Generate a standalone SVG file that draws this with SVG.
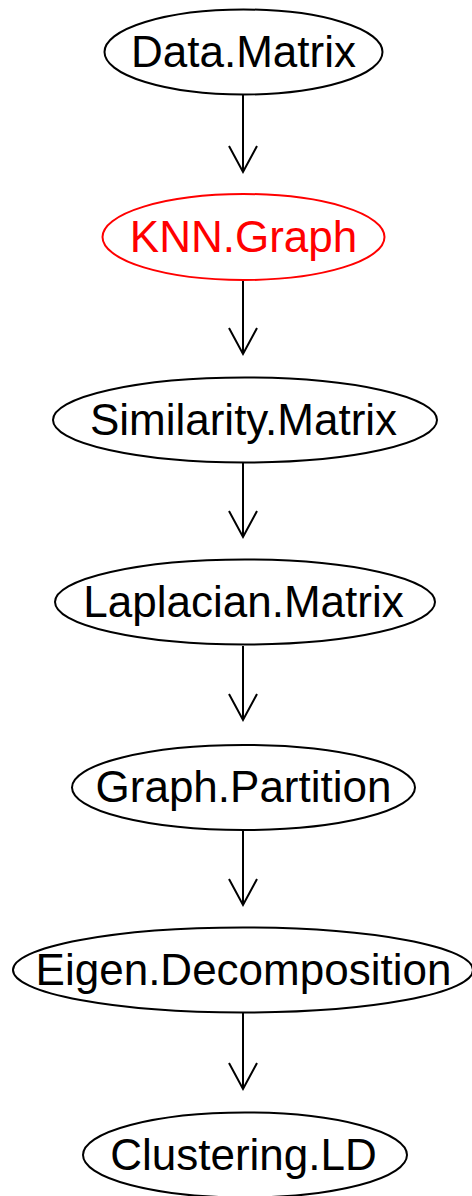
<svg xmlns="http://www.w3.org/2000/svg" width="472" height="1196" viewBox="0 0 472 1196">
<style>
.n ellipse{fill:none;stroke:#000;stroke-width:2}
.n text{font-family:"Liberation Sans",Arial,sans-serif;font-size:44px;text-anchor:middle;fill:#000}
.r ellipse{stroke:#ff0000}
.r text{fill:#ff0000}
.e path{fill:none;stroke:#000;stroke-width:2}
</style>
<rect width="472" height="1196" fill="#fff"/>
<g class="e" id="connectors">
<path d="M243,95V172M229,146L243,172L257,146"/>
<path d="M243,280V354M229,328L243,354L257,328"/>
<path d="M243,463V537M229,511L243,537L257,511"/>
<path d="M243,646V720M229,694L243,720L257,694"/>
<path d="M243,830V905M229,879L243,905L257,879"/>
<path d="M243,1013V1089M229,1063L243,1089L257,1063"/>
</g>
<g class="n" id="Data.Matrix"><ellipse cx="243.5" cy="52" rx="139" ry="42.5"/><text x="243.5" y="67">Data.Matrix</text></g>
<g class="n r" id="KNN.Graph"><ellipse cx="243.5" cy="237" rx="141" ry="43"/><text x="243.5" y="252">KNN.Graph</text></g>
<g class="n" id="Similarity.Matrix"><ellipse cx="245" cy="420" rx="192" ry="42.5"/><text x="243.5" y="435">Similarity.Matrix</text></g>
<g class="n" id="Laplacian.Matrix"><ellipse cx="245" cy="602" rx="190" ry="42.5"/><text x="243.5" y="617">Laplacian.Matrix</text></g>
<g class="n" id="Graph.Partition"><ellipse cx="243.5" cy="787.5" rx="171.5" ry="42.5"/><text x="243.5" y="802">Graph.Partition</text></g>
<g class="n" id="Eigen.Decomposition"><ellipse cx="243" cy="970" rx="230" ry="42.5"/><text x="243.5" y="985">Eigen.Decomposition</text></g>
<g class="n" id="Clustering.LD"><ellipse cx="245" cy="1155" rx="162" ry="42.5"/><text x="243.5" y="1170">Clustering.LD</text></g>
</svg>
